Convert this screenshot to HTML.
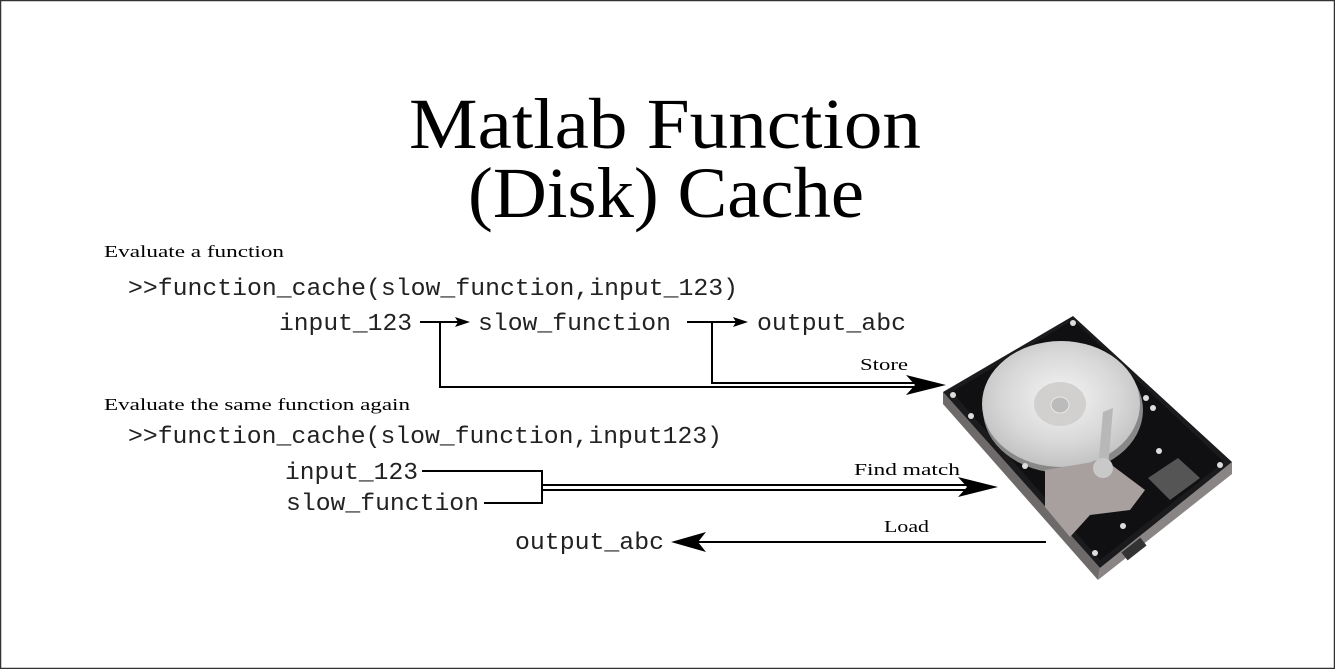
<!DOCTYPE html>
<html><head><meta charset="utf-8"><style>
html,body{margin:0;padding:0;background:#fff;}
svg{display:block;}
.t{font-family:"Liberation Serif",serif;}
.m{font-family:"Liberation Mono",monospace;font-size:24px;fill:#222;}
.s{font-family:"Liberation Serif",serif;font-size:17px;}
</style></head><body>
<svg width="1335" height="669" viewBox="0 0 1335 669" xmlns="http://www.w3.org/2000/svg">
<defs>
<radialGradient id="dg" cx="0.5" cy="0.45" r="0.6">
<stop offset="0" stop-color="#f4f4f4"/><stop offset="0.6" stop-color="#d8d8d8"/><stop offset="1" stop-color="#bdbdbd"/></radialGradient>
</defs>
<rect x="0.5" y="0.5" width="1334" height="668" fill="#fff" stroke="#333" stroke-width="1.5"/>
<text class="t" x="665" y="148" font-size="72" text-anchor="middle" textLength="512" lengthAdjust="spacingAndGlyphs">Matlab Function</text>
<text class="t" x="666" y="217" font-size="72" text-anchor="middle" textLength="396" lengthAdjust="spacingAndGlyphs">(Disk) Cache</text>

<text class="s" x="104" y="257" textLength="180" lengthAdjust="spacingAndGlyphs">Evaluate a function</text>
<text class="m" x="128" y="295" textLength="610" lengthAdjust="spacingAndGlyphs">&gt;&gt;function_cache(slow_function,input_123)</text>
<text class="m" x="279" y="330" textLength="133" lengthAdjust="spacingAndGlyphs">input_123</text>
<text class="m" x="478" y="330" textLength="193" lengthAdjust="spacingAndGlyphs">slow_function</text>
<text class="m" x="757" y="330" textLength="149" lengthAdjust="spacingAndGlyphs">output_abc</text>

<text class="s" x="104" y="410" textLength="306" lengthAdjust="spacingAndGlyphs">Evaluate the same function again</text>
<text class="m" x="128" y="443" textLength="594" lengthAdjust="spacingAndGlyphs">&gt;&gt;function_cache(slow_function,input123)</text>
<text class="m" x="285" y="479" textLength="133" lengthAdjust="spacingAndGlyphs">input_123</text>
<text class="m" x="286" y="510" textLength="193" lengthAdjust="spacingAndGlyphs">slow_function</text>
<text class="m" x="515" y="549" textLength="149" lengthAdjust="spacingAndGlyphs">output_abc</text>

<text class="s" x="860" y="370" textLength="48" lengthAdjust="spacingAndGlyphs">Store</text>
<text class="s" x="854" y="475" textLength="106" lengthAdjust="spacingAndGlyphs">Find match</text>
<text class="s" x="884" y="532" textLength="45" lengthAdjust="spacingAndGlyphs">Load</text>

<g stroke="#000" stroke-width="2" fill="none">
<line x1="420" y1="322" x2="458" y2="322"/>
<line x1="687" y1="322" x2="736" y2="322"/>
<polyline points="440,322 440,387 920,387"/>
<polyline points="712,322 712,383 920,383"/>
<polyline points="422,471 542,471 542,503 484,503"/>
<line x1="542" y1="485" x2="975" y2="485"/>
<line x1="542" y1="490" x2="975" y2="490"/>
<line x1="1046" y1="542" x2="690" y2="542"/>
</g>
<g fill="#000">
<polygon points="470,322 455,317 458,322 455,327"/>
<polygon points="748,322 733,317 736,322 733,327"/>
<polygon points="946,385 906,375 915,385 906,395"/>
<polygon points="998,487 958,477 967,487 958,497"/>
<polygon points="671,542 706,532 698,542 706,552"/>
</g>

<!-- hard drive -->
<g>
<polygon points="943,392 943,404 1098,580 1100,568" fill="#6f6a6a"/>
<polygon points="1100,568 1098,580 1232,474 1232,462" fill="#8a8585"/>
<polygon points="1073,316 943,392 1100,568 1232,462" fill="#1b1b1d"/>
<polygon points="1073,320 952,392 1100,560 1224,462" fill="#101012"/>
<ellipse cx="1063" cy="410" rx="80" ry="63" fill="#888"/>
<ellipse cx="1061" cy="404" rx="79" ry="63" fill="url(#dg)"/>
<ellipse cx="1060" cy="404" rx="26" ry="22" fill="#d2cfcf"/>
<ellipse cx="1060" cy="405" rx="9" ry="8" fill="#bbb" stroke="#e8e8e8"/>
<path d="M1148,478 l30,-20 l22,20 l-30,22 z" fill="#555"/>
<path d="M1045,470 l60,-10 l40,30 l-15,20 l-40,5 l-20,22 l-25,-30 z" fill="#a8a09e"/>
<path d="M1103,412 l10,-4 l-5,60 l-10,2 z" fill="#b8b8b8"/>
<circle cx="1103" cy="468" r="10" fill="#c9c9c9"/>
<rect x="1122" y="544" width="24" height="10" fill="#333" transform="rotate(-38 1134 549)"/>
<g fill="#ddd">
<circle cx="1073" cy="323" r="3"/><circle cx="953" cy="395" r="3"/><circle cx="971" cy="416" r="3"/>
<circle cx="1146" cy="398" r="3"/><circle cx="1153" cy="408" r="3"/><circle cx="1159" cy="451" r="3"/>
<circle cx="1220" cy="465" r="3"/><circle cx="1025" cy="466" r="3"/><circle cx="1095" cy="553" r="3"/>
<circle cx="1123" cy="526" r="3"/>
</g>
</g>
</svg>
</body></html>
